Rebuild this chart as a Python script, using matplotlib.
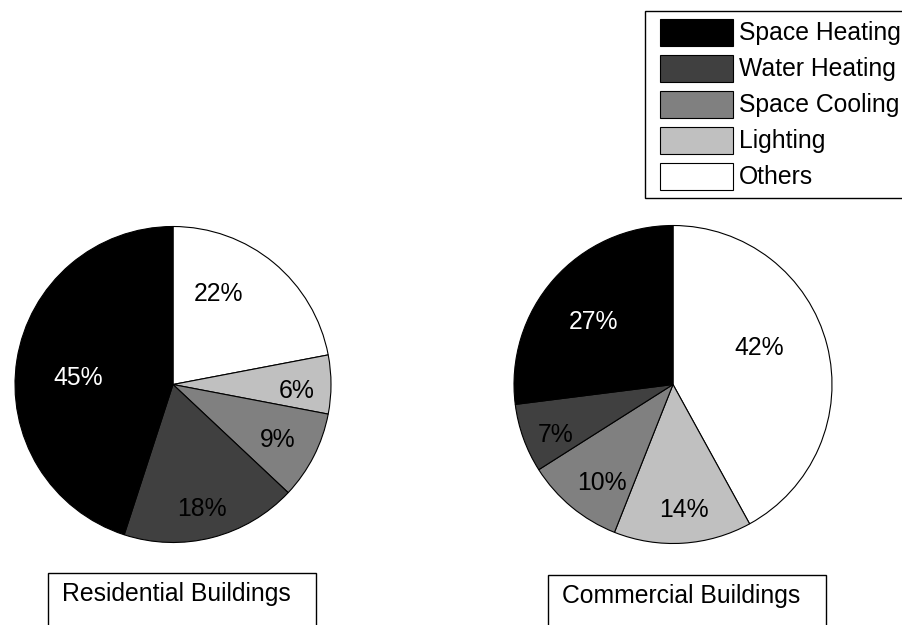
import matplotlib.pyplot as plt
from matplotlib.patches import Rectangle

plt.rcParams['font.family'] = ['Liberation Sans', 'DejaVu Sans']

# end-use categories, in legend order
categories = ["Space Heating", "Water Heating", "Space Cooling", "Lighting", "Others"]
colors = ["#000000", "#404040", "#808080", "#c0c0c0", "#ffffff"]
text_colors = ["white", "black", "black", "black", "black"]

residential = [45, 18, 9, 6, 22]
commercial = [27, 7, 10, 14, 42]

# percentage label spots, in units of the pie radius (x right, y up)
res_label_pos = [(-0.60, 0.04), (0.18, -0.79), (0.665, -0.35), (0.785, -0.04), (0.285, 0.575)]
com_label_pos = [(-0.50, 0.39), (-0.74, -0.32), (-0.45, -0.62), (0.07, -0.79), (0.54, 0.23)]

W, H = 902, 625
FS = 17.8
fig = plt.figure(figsize=(W / 100, H / 100), dpi=100)


def draw_pie(cx, cy, r, values, label_pos):
    pad = 1.01
    ax = fig.add_axes([(cx - r * pad) / W, (H - cy - r * pad) / H,
                       2 * r * pad / W, 2 * r * pad / H])
    # drawn clockwise from 12 o'clock, starting with "Others"
    order = list(range(len(values)))[::-1]
    ax.pie([values[i] for i in order], colors=[colors[i] for i in order],
           startangle=90, counterclock=False, radius=1,
           wedgeprops=dict(edgecolor="black", linewidth=0.8))
    for v, (x, y), c in zip(values, label_pos, text_colors):
        ax.text(x, y, f"{v}%", ha="center", va="center", fontsize=FS, color=c)
    ax.set_xlim(-pad, pad)
    ax.set_ylim(-pad, pad)
    ax.set_aspect("equal")
    ax.axis("off")


draw_pie(173, 384.5, 158, residential, res_label_pos)
draw_pie(673, 384.5, 159, commercial, com_label_pos)

# overlay in pixel units for the legend and the caption boxes
ov = fig.add_axes([0, 0, 1, 1], zorder=5)
ov.set_xlim(0, W)
ov.set_ylim(H, 0)
ov.axis("off")
ov.patch.set_alpha(0)

ov.add_patch(Rectangle((644.5, 10.5), 262, 187.5, facecolor="white",
                       edgecolor="black", linewidth=1))
for i, (name, col) in enumerate(zip(categories, colors)):
    top = 19 + 36 * i
    ov.add_patch(Rectangle((659.5, top), 73.5, 26.5, facecolor=col,
                           edgecolor="black", linewidth=0.8))
    ov.text(739, top + 14, name, ha="left", va="center", fontsize=FS)

for x0, x1, top, title in [(47.5, 316, 573, "Residential Buildings"),
                           (547.5, 826, 575, "Commercial Buildings")]:
    ov.add_patch(Rectangle((x0, top), x1 - x0, 60, facecolor="white",
                           edgecolor="black", linewidth=1))
    ov.text(x0 + 14.5, top + 21, title, ha="left", va="center", fontsize=FS)

fig.savefig("out.png", dpi=100)
